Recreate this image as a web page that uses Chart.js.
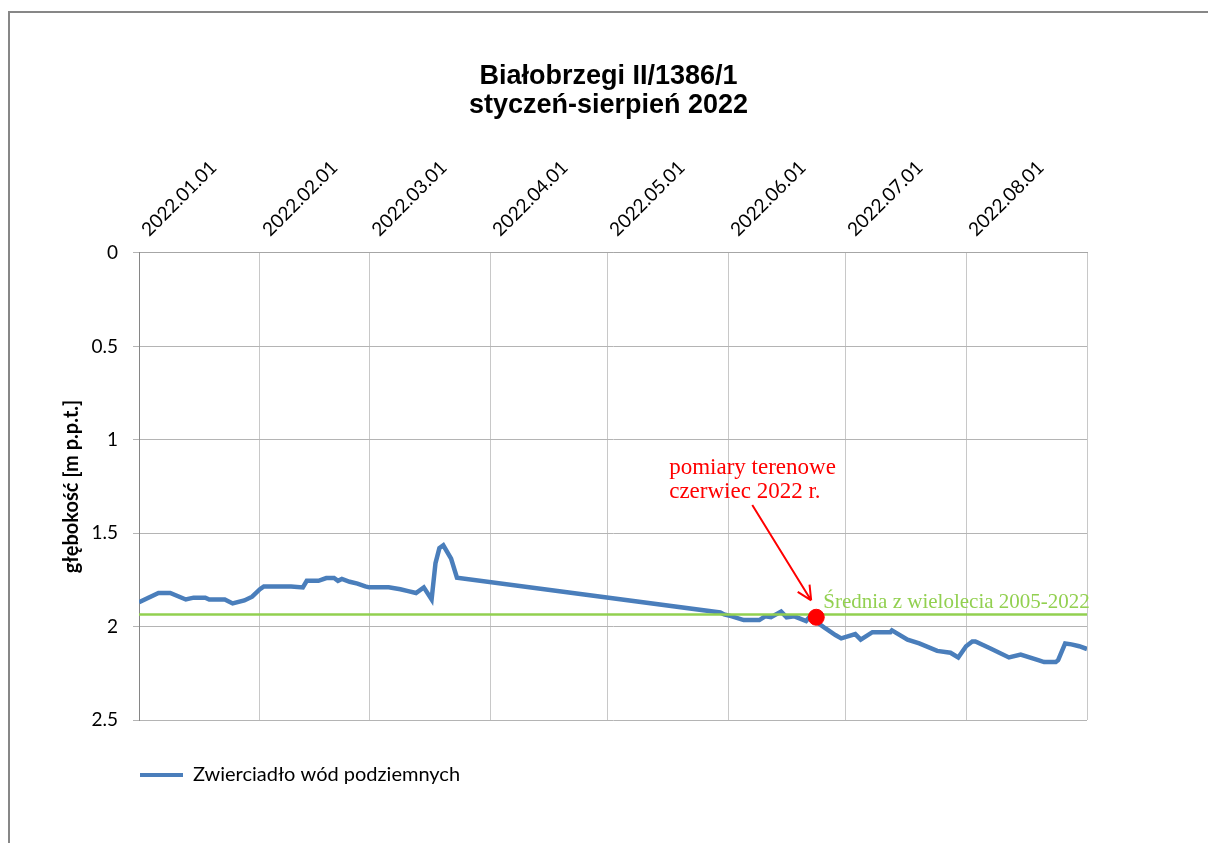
<!DOCTYPE html>
<html>
<head>
<meta charset="utf-8">
<script src="https://cdn.jsdelivr.net/npm/chart.js@4.4.1/dist/chart.umd.min.js"></script>
<style>
  body { margin: 0; background: #fff; overflow: hidden; }
  #frame { position: absolute; left: 8px; top: 11px; width: 1300px; height: 1000px; border: 2px solid #878787; }
  #wrap { position: absolute; left: 0; top: 0; width: 1208px; height: 843px; }
</style>
</head>
<body>
<div id="frame"></div>
<div id="wrap"><canvas id="chart" width="1208" height="843"></canvas></div>
<script>
// dni od 2022.01.01 i glebokosc zwierciadla [m p.p.t.]
const dni = [0, 5, 8, 12, 14, 17, 18, 22, 24, 27, 29, 31, 32, 39, 42, 43, 46, 48, 50, 51, 52, 54, 56, 58, 59, 64, 67, 69, 71, 73, 75, 76, 77, 78, 80, 81.5,
  149, 150, 152, 155, 159, 160.5, 162, 164.6, 166, 168, 171, 172, 174, 176, 178.5, 180, 183.6, 185, 188, 192.6, 193, 197, 200, 204.6, 208, 210,
  212, 213.6, 214.4, 218, 223, 226, 230.5, 232, 235, 235.6, 237.4, 239, 241, 243];
const glebokosc = [1.87, 1.82, 1.82, 1.855, 1.845, 1.845, 1.855, 1.855, 1.876, 1.86, 1.84, 1.80, 1.785, 1.785, 1.79, 1.755, 1.755, 1.74, 1.74, 1.755, 1.745, 1.76, 1.77, 1.785, 1.79, 1.79, 1.80, 1.81, 1.82, 1.79, 1.855, 1.66, 1.58, 1.565, 1.636, 1.738,
  1.924, 1.935, 1.945, 1.965, 1.965, 1.945, 1.95, 1.92, 1.95, 1.945, 1.97, 1.945, 1.98, 2.01, 2.045, 2.063, 2.04, 2.07, 2.03, 2.03, 2.02, 2.07, 2.09, 2.13, 2.14, 2.165,
  2.105, 2.08, 2.08, 2.115, 2.165, 2.15, 2.18, 2.19, 2.19, 2.18, 2.09, 2.095, 2.105, 2.12];

const sredniaWielolecie = 1.935;
const pomiarDzien = 173.6;
const pomiarWartosc = 1.95;

const miesiaceDni = [0, 31, 59, 90, 120, 151, 181, 212, 243];
const miesiaceEtykiety = ['2022.01.01', '2022.02.01', '2022.03.01', '2022.04.01', '2022.05.01', '2022.06.01', '2022.07.01', '2022.08.01', ''];
const yTicks = [0, 0.5, 1, 1.5, 2, 2.5];

const seria = dni.map((d, i) => ({ x: d, y: glebokosc[i] }));

// napisy i strzalka na wykresie
const adnotacje = {
  id: 'adnotacje',
  afterDatasetsDraw(chart) {
    const { ctx, scales: { x, y } } = chart;
    ctx.save();
    ctx.textBaseline = 'middle';
    ctx.textAlign = 'left';
    ctx.font = '23px "Liberation Serif", "Times New Roman", serif';
    ctx.fillStyle = '#ff0000';
    ctx.fillText('pomiary terenowe', x.getPixelForValue(135.9), y.getPixelForValue(1.152));
    ctx.fillText('czerwiec 2022 r.', x.getPixelForValue(135.9), y.getPixelForValue(1.28));

    const x1 = x.getPixelForValue(157.2), y1 = y.getPixelForValue(1.349);
    const x2 = x.getPixelForValue(172.3), y2 = y.getPixelForValue(1.86);
    ctx.strokeStyle = '#ff0000';
    ctx.lineWidth = 2;
    ctx.beginPath();
    ctx.moveTo(x1, y1);
    ctx.lineTo(x2, y2);
    const ang = Math.atan2(y2 - y1, x2 - x1);
    ctx.moveTo(x2, y2);
    ctx.lineTo(x2 - 16 * Math.cos(ang - 0.45), y2 - 16 * Math.sin(ang - 0.45));
    ctx.moveTo(x2, y2);
    ctx.lineTo(x2 - 16 * Math.cos(ang + 0.45), y2 - 16 * Math.sin(ang + 0.45));
    ctx.stroke();

    ctx.font = '21px "Liberation Serif", "Times New Roman", serif';
    ctx.fillStyle = '#92d050';
    ctx.fillText('Średnia z wielolecia 2005-2022', x.getPixelForValue(175.4), y.getPixelForValue(1.871));
    ctx.restore();
  }
};

// legenda nizej, tytul na srodku strony
const przesunBloki = {
  id: 'przesunBloki',
  afterLayout(chart) {
    chart.legend.top += 44;
    chart.legend.bottom += 44;
    chart.titleBlock.left += 55;
    chart.titleBlock.right += 55;
  }
};

new Chart(document.getElementById('chart'), {
  type: 'line',
  data: {
    datasets: [
      {
        label: 'Zwierciadło wód podziemnych',
        data: seria,
        borderColor: '#4a7ebb',
        backgroundColor: '#4a7ebb',
        borderWidth: 4.5,
        pointRadius: 0,
        tension: 0,
        order: 3
      },
      {
        label: 'Średnia z wielolecia 2005-2022',
        data: [{ x: 0, y: sredniaWielolecie }, { x: 243, y: sredniaWielolecie }],
        borderColor: '#92d050',
        borderWidth: 2.5,
        pointRadius: 0,
        order: 2
      },
      {
        type: 'scatter',
        label: 'pomiary terenowe',
        data: [{ x: pomiarDzien, y: pomiarWartosc }],
        backgroundColor: '#ff0000',
        borderColor: '#ff0000',
        pointRadius: 8,
        order: 1
      }
    ]
  },
  options: {
    responsive: false,
    animation: false,
    layout: { padding: { left: 20, right: 121, top: 0, bottom: 92 } },
    plugins: {
      title: {
        display: true,
        text: ['Białobrzegi II/1386/1', 'styczeń-sierpień 2022'],
        color: '#000',
        font: { family: '"Liberation Sans", Arial, sans-serif', size: 27, weight: 'bold', lineHeight: 1.074 },
        padding: { top: 62, bottom: 0 }
      },
      legend: {
        display: true,
        position: 'bottom',
        align: 'start',
        fullSize: false,
        labels: {
          boxWidth: 43,
          boxHeight: 4,
          padding: 1,
          color: '#000',
          font: { family: 'Lato, sans-serif', size: 20 },
          filter: (item) => item.datasetIndex === 0,
          generateLabels: (chart) => Chart.defaults.plugins.legend.labels.generateLabels(chart)
            .map(item => ({ ...item, lineWidth: 0 }))
        }
      },
      tooltip: { enabled: false }
    },
    scales: {
      x: {
        type: 'linear',
        position: 'top',
        min: 0,
        max: 243,
        afterBuildTicks: (scale) => {
          scale.ticks = miesiaceDni.map(v => ({ value: v }));
        },
        afterFit: (scale) => { scale.height = 133; },
        ticks: {
          autoSkip: false,
          minRotation: 45,
          maxRotation: 45,
          padding: 12,
          labelOffset: 22,
          color: '#000',
          font: { family: 'Lato, sans-serif', size: 19 },
          callback: (value, index) => miesiaceEtykiety[index]
        },
        grid: { color: '#c8c8c8', drawTicks: false, lineWidth: 1 },
        border: { color: '#a6a6a6' }
      },
      y: {
        reverse: true,
        min: 0,
        max: 2.5,
        afterBuildTicks: (scale) => {
          scale.ticks = yTicks.map(v => ({ value: v }));
        },
        afterFit: (scale) => { scale.width = 119; },
        ticks: {
          padding: 15,
          color: '#000',
          font: { family: 'Lato, sans-serif', size: 19 },
          callback: (value) => String(value)
        },
        grid: { color: '#b4b4b4', tickLength: 6 },
        border: { color: '#868686' },
        title: {
          display: true,
          text: 'głębokość [m p.p.t.]',
          color: '#000',
          font: { family: 'Lato, sans-serif', size: 20, weight: 'bold' },
          padding: { top: 40, bottom: 0 }
        }
      }
    }
  },
  plugins: [adnotacje, przesunBloki]
});
</script>
</body>
</html>
